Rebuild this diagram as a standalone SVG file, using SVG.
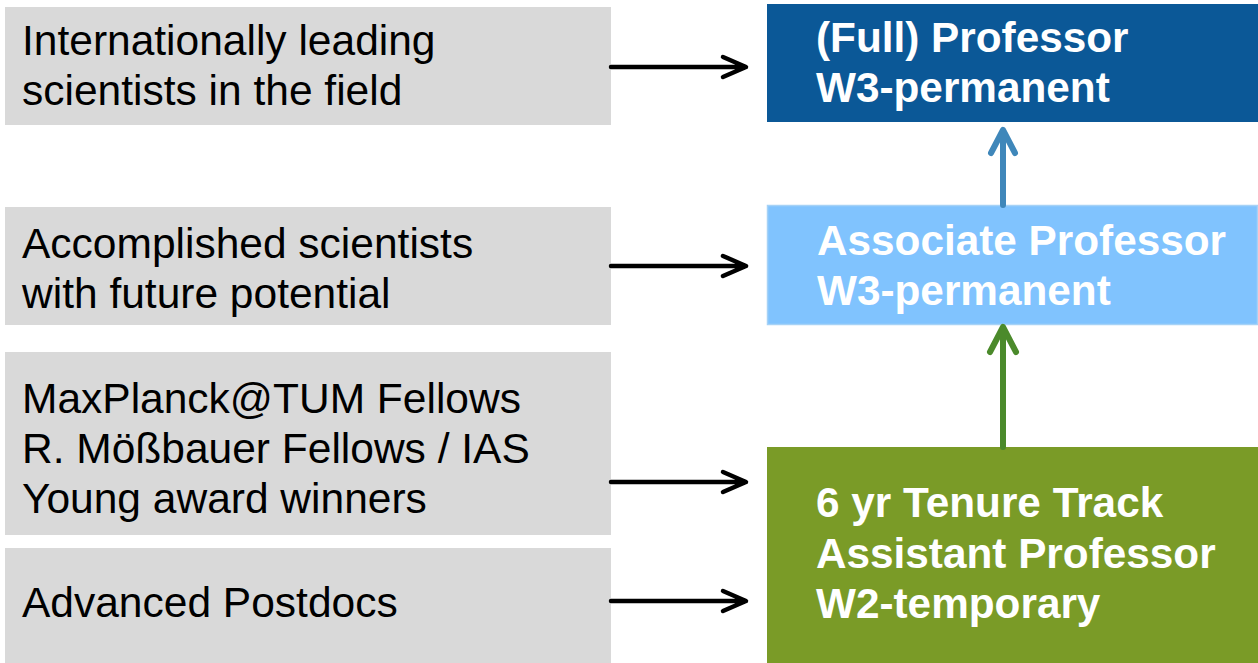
<svg xmlns="http://www.w3.org/2000/svg" width="1258" height="663" viewBox="0 0 1258 663">
<style>
.src{fill:#d9d9d9}
.lt{font-family:"Liberation Sans",Arial,sans-serif;font-size:42.5px;fill:#000}
.rt{font-family:"Liberation Sans",Arial,sans-serif;font-size:42.3px;font-weight:bold;fill:#fff}
.h{fill:none;stroke:#000;stroke-width:4.5;stroke-linecap:round;stroke-linejoin:round}
</style>
<rect width="1258" height="663" fill="#fff"/>
<g id="n1"><rect class="src" x="5" y="7" width="606" height="118"/>
<text class="lt"><tspan x="22" y="55">Internationally leading</tspan><tspan x="22" y="105">scientists in the field</tspan></text></g>
<g id="n2"><rect class="src" x="5" y="207" width="606" height="118"/>
<text class="lt"><tspan x="22" y="258">Accomplished scientists</tspan><tspan x="22" y="308">with future potential</tspan></text></g>
<g id="n3"><rect class="src" x="5" y="352" width="606" height="183"/>
<text class="lt"><tspan x="22" y="413">MaxPlanck@TUM Fellows</tspan><tspan x="22" y="463">R. Mößbauer Fellows / IAS</tspan><tspan x="22" y="513">Young award winners</tspan></text></g>
<g id="n4"><rect class="src" x="5" y="548" width="606" height="115"/>
<text class="lt"><tspan x="22" y="617">Advanced Postdocs</tspan></text></g>
<g id="full"><rect x="767" y="4" width="491" height="118" fill="#0b5897"/>
<text class="rt"><tspan x="816" y="52">(Full) Professor</tspan><tspan x="816" y="102">W3-permanent</tspan></text></g>
<g id="assoc"><rect x="767.5" y="205.5" width="490" height="119" fill="#80c3fe" stroke="#a6d2f6" stroke-width="1.5"/>
<text class="rt"><tspan x="817" y="255">Associate Professor</tspan><tspan x="817" y="305">W3-permanent</tspan></text></g>
<g id="assist"><rect x="767" y="447" width="491" height="216" fill="#7a9b27"/>
<text class="rt"><tspan x="816" y="517">6 yr Tenure Track</tspan><tspan x="816" y="568">Assistant Professor</tspan><tspan x="816" y="618">W2-temporary</tspan></text></g>
<g id="connectors">
<path class="h" d="M611 67H745M723 57L746 67L723 77"/>
<path class="h" d="M611 266H745M723 256L746 266L723 276"/>
<path class="h" d="M611 482H745M723 472L746 482L723 492"/>
<path class="h" d="M611 601H745M723 591L746 601L723 611"/>
<path d="M1003 205V131M991 153L1003 130L1015 153" fill="none" stroke="#3f87ba" stroke-width="6" stroke-linecap="round" stroke-linejoin="round"/>
<path d="M1003 447V328M990 352L1003 327L1016 352" fill="none" stroke="#4b8a2b" stroke-width="6" stroke-linecap="round" stroke-linejoin="round"/>
</g>
</svg>
